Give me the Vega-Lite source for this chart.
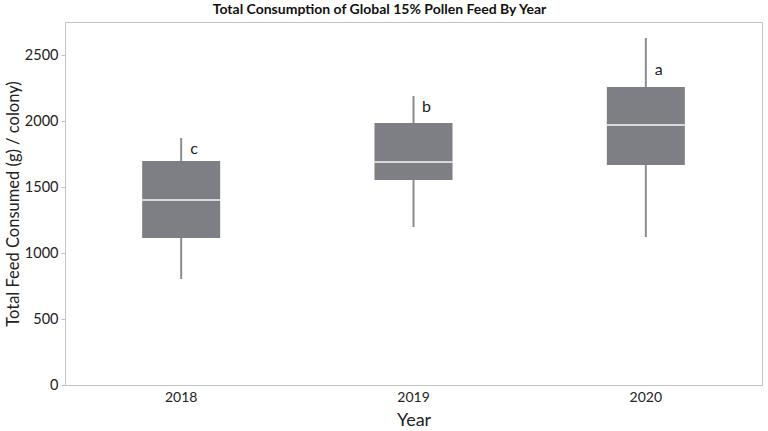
{
  "$schema": "https://vega.github.io/schema/vega-lite/v6.json",
  "width": 697,
  "height": 363,
  "autosize": {"type": "none"},
  "padding": {"left": 65, "top": 22, "right": 6, "bottom": 46},
  "background": "white",
  "config": {
    "font": "Lato",
    "view": {"stroke": "#c4c4c4", "strokeWidth": 1}
  },
  "title": {
    "text": "Total Consumption of Global 15% Pollen Feed By Year",
    "font": "Lato",
    "fontSize": 14,
    "fontWeight": "bold",
    "color": "#111",
    "offset": 5,
    "dx": -34
  },
  "data": {
    "values": [
      {"year": "2018", "min": 803, "q1": 1114, "median": 1402, "q3": 1697, "max": 1871, "letter": "c", "letterY": 1788},
      {"year": "2019", "min": 1197, "q1": 1553, "median": 1689, "q3": 1985, "max": 2189, "letter": "b", "letterY": 2106},
      {"year": "2020", "min": 1121, "q1": 1667, "median": 1970, "q3": 2258, "max": 2629, "letter": "a", "letterY": 2386}
    ]
  },
  "encoding": {
    "x": {
      "field": "year",
      "type": "nominal",
      "title": "Year",
      "axis": {
        "labelAngle": 0,
        "labelFontSize": 14,
        "labelColor": "#222",
        "labelPadding": 5,
        "ticks": false,
        "domainColor": "#c4c4c4",
        "titleFontSize": 18,
        "titleFontWeight": "normal",
        "titleColor": "#222",
        "titlePadding": 7
      }
    }
  },
  "layer": [
    {
      "mark": {"type": "rule", "color": "#8c8c8c", "strokeWidth": 2},
      "encoding": {
        "y": {
          "field": "min",
          "type": "quantitative",
          "scale": {"domain": [0, 2750], "nice": false},
          "title": "Total Feed Consumed (g) / colony)",
          "axis": {
            "grid": false,
            "values": [0, 250, 500, 750, 1000, 1250, 1500, 1750, 2000, 2250, 2500],
            "labelExpr": "datum.value % 500 === 0 ? datum.label : ''",
            "format": "d",
            "tickSize": {"condition": {"test": "datum.value % 500 === 0", "value": 4}, "value": 3},
            "tickColor": "#c4c4c4",
            "domainColor": "#c4c4c4",
            "labelFontSize": 14.5,
            "labelColor": "#222",
            "labelPadding": 3,
            "titleFontSize": 16.5,
            "titleFontWeight": "normal",
            "titleColor": "#222",
            "titlePadding": 3
          }
        },
        "y2": {"field": "max"}
      }
    },
    {
      "mark": {"type": "bar", "size": 78, "color": "#7e7f84"},
      "encoding": {
        "y": {"field": "q1", "type": "quantitative"},
        "y2": {"field": "q3"}
      }
    },
    {
      "mark": {"type": "tick", "size": 78, "thickness": 2, "color": "white"},
      "encoding": {
        "y": {"field": "median", "type": "quantitative"}
      }
    },
    {
      "mark": {"type": "text", "dx": 13, "fontSize": 16, "color": "#222", "font": "Lato"},
      "encoding": {
        "y": {"field": "letterY", "type": "quantitative"},
        "text": {"field": "letter"}
      }
    }
  ]
}
